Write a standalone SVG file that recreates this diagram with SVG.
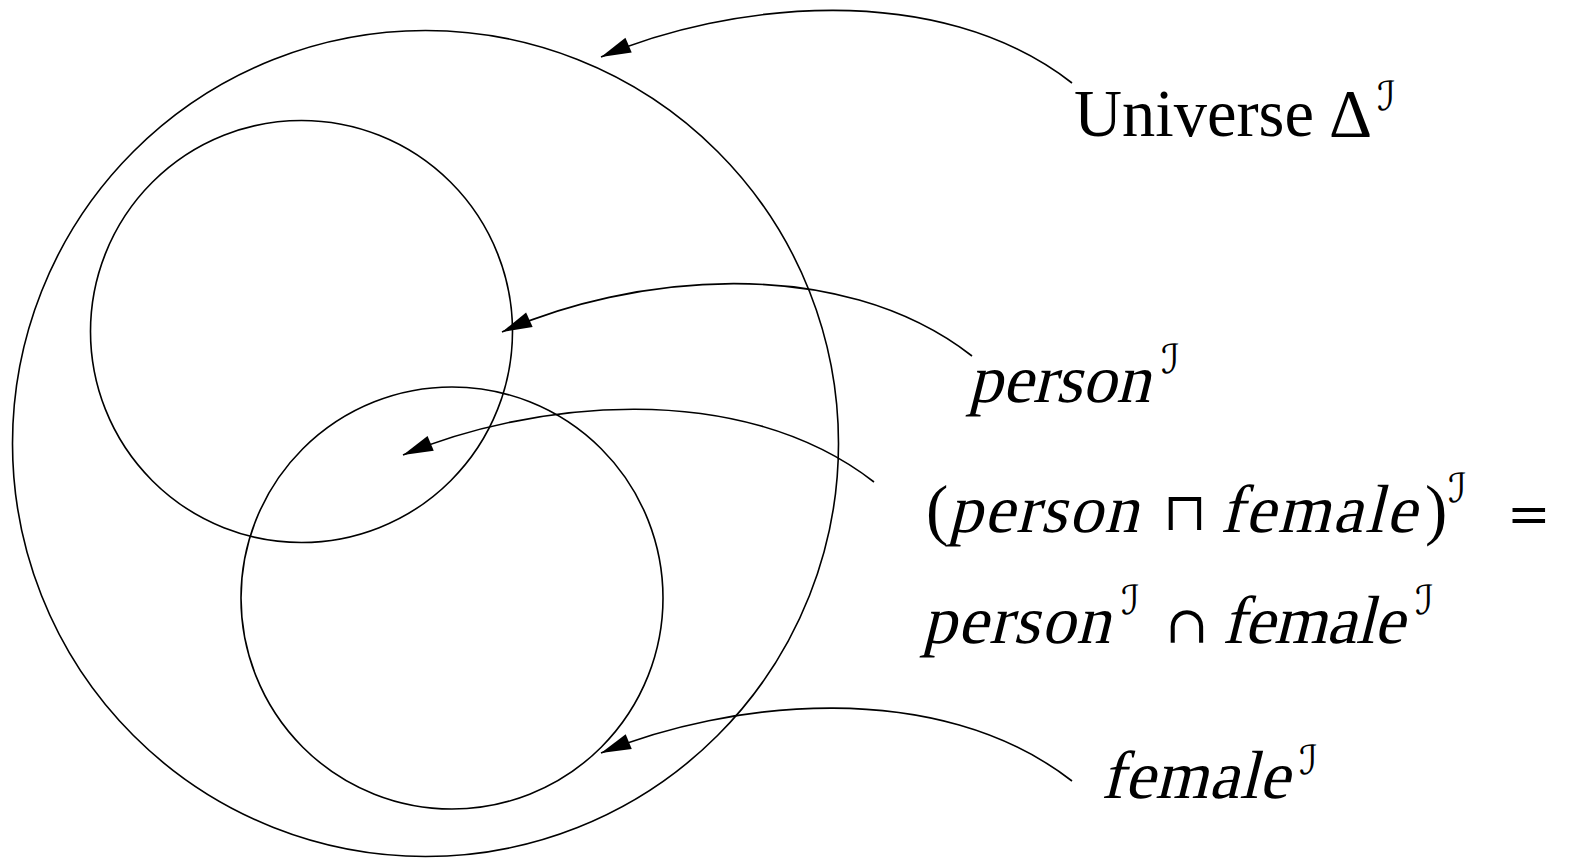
<svg xmlns="http://www.w3.org/2000/svg" width="1575" height="858" viewBox="0 0 1575 858">
<style>
.c{fill:none;stroke:#000;stroke-width:1.6}
.l{fill:none;stroke:#000;stroke-width:1.6}
.rm{font-family:"Liberation Serif","DejaVu Serif",serif;font-size:67px;fill:#000}
.mi{font-family:"Liberation Serif","DejaVu Serif",serif;font-size:68px;fill:#000}
.sy{font-family:"DejaVu Serif","DejaVu Sans",serif;font-size:52px;fill:#000}
.sc{font-family:"DejaVu Serif","DejaVu Sans",serif;font-style:italic;font-size:40px;fill:#000}
</style>
<defs>
<marker id="ah" viewBox="-32 -10 34 20" refX="0" refY="0" markerWidth="34" markerHeight="20" markerUnits="userSpaceOnUse" orient="auto">
<path d="M0,0 L-30,-8 L-30,8 Z" fill="#000"/>
</marker>
</defs>
<rect width="1575" height="858" fill="#fff"/>
<g id="universe"><circle class="c" cx="425.5" cy="443.5" r="413"/></g>
<g id="person"><circle class="c" cx="301.5" cy="331.5" r="211"/></g>
<g id="female"><circle class="c" cx="452" cy="598" r="211"/></g>
<g id="connectors">
<path class="l" d="M1072,83 c-135,-105 -345,-80 -471,-26" marker-end="url(#ah)"/>
<path class="l" d="M972,356 c-135,-105 -345,-80 -470,-24" marker-end="url(#ah)"/>
<path class="l" d="M874,482 c-135,-105 -345,-80 -471,-27" marker-end="url(#ah)"/>
<path class="l" d="M1072,781 c-135,-105 -345,-80 -471,-28" marker-end="url(#ah)"/>
</g>
<g id="label-universe">
<text class="rm" x="1074" y="136" textLength="240" lengthAdjust="spacingAndGlyphs">Universe</text>
<text class="rm" x="1329" y="136" font-family="DejaVu Serif" font-size="64">Δ</text>
<text class="sc" x="1377" y="110">ℐ</text>
</g>
<g id="label-person">
<text class="mi" transform="translate(968,402) skewX(-14)" textLength="182" lengthAdjust="spacing">person</text>
<text class="sc" x="1161" y="373">ℐ</text>
</g>
<g id="label-intersection">
<text class="rm" x="926" y="532">(</text>
<text class="mi" transform="translate(948,532) skewX(-14)" textLength="190" lengthAdjust="spacing">person</text>
<text class="sy" x="1163" y="530">⊓</text>
<text class="mi" transform="translate(1220,532) skewX(-14)" textLength="196" lengthAdjust="spacing">female</text>
<text class="rm" x="1425" y="532">)</text>
<text class="sc" x="1448" y="502">ℐ</text>
<text class="sy" x="1507" y="532">=</text>
<text class="mi" transform="translate(922,643) skewX(-14)" textLength="188" lengthAdjust="spacing">person</text>
<text class="sc" x="1121" y="614">ℐ</text>
<text class="sy" x="1165" y="643">∩</text>
<text class="mi" transform="translate(1222,643) skewX(-14)" textLength="182" lengthAdjust="spacing">female</text>
<text class="sc" x="1415" y="614">ℐ</text>
</g>
<g id="label-female">
<text class="mi" transform="translate(1101,798) skewX(-14)" textLength="188" lengthAdjust="spacing">female</text>
<text class="sc" x="1299" y="774">ℐ</text>
</g>
</svg>
